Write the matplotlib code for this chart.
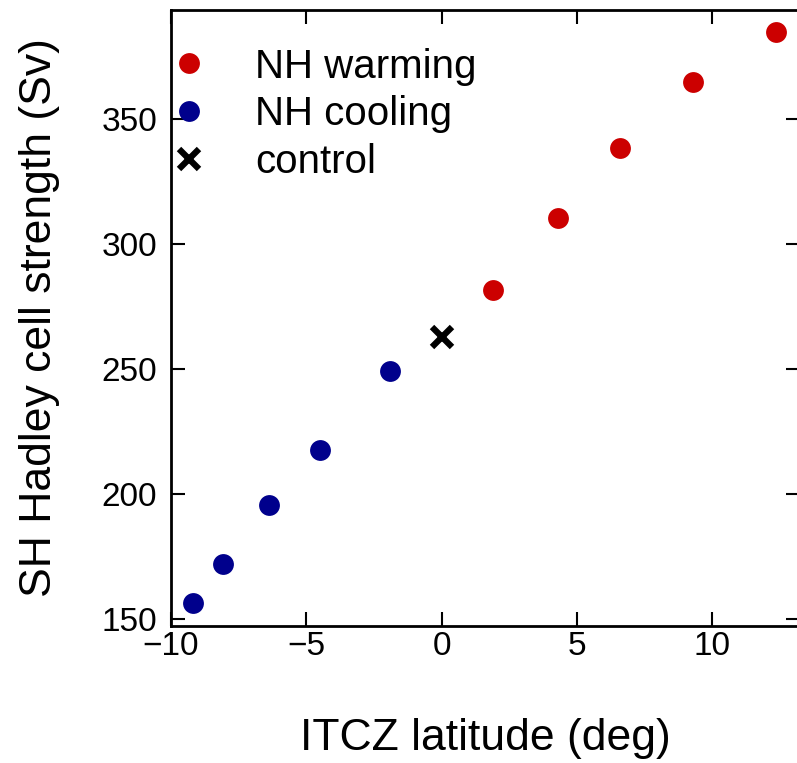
import matplotlib
matplotlib.use("Agg")
import matplotlib.pyplot as plt

plt.rcParams['font.family'] = ['Liberation Sans', 'DejaVu Sans']

# ITCZ latitude (deg) and SH Hadley cell strength (Sv)
cool_lat = [-9.17, -8.08, -6.38, -4.48, -1.90]
cool_psi = [156.4, 172.0, 195.7, 217.7, 249.3]
warm_lat = [1.91, 4.30, 6.61, 9.29, 12.37]
warm_psi = [281.8, 310.4, 338.6, 365.0, 384.9]
ctrl_lat = [0.0]
ctrl_psi = [262.8]

red = '#cc0000'
blue = '#00008c'

fig = plt.figure(figsize=(7.97, 7.63), dpi=100)
ax = fig.add_axes([0.2146, 0.180, 0.7895, 0.807])

ax.plot(warm_lat, warm_psi, 'o', color=red, ms=15, mec='none', label='NH warming')
ax.plot(cool_lat, cool_psi, 'o', color=blue, ms=15, mec='none', label='NH cooling')
ax.plot(ctrl_lat, ctrl_psi, 'x', color='k', ms=14, mew=4.5, label='control')

ax.set_xlim(-10, 13.26)
ax.set_ylim(147.4, 393.7)
ax.set_xticks([-10, -5, 0, 5, 10])
ax.set_xticklabels(['\u221210', '\u22125', '0', '5', '10'])
ax.set_yticks([150, 200, 250, 300, 350])

ax.tick_params(direction='in', length=10, width=1.5, labelsize=24,
               top=True, right=True)
ax.tick_params(axis='x', pad=4)
ax.tick_params(axis='y', pad=10)
for s in ax.spines.values():
    s.set_linewidth(2)

ax.set_xlabel('ITCZ latitude (deg)', fontsize=32, labelpad=40)
ax.set_ylabel('SH Hadley cell strength (Sv)', fontsize=32, labelpad=30)

ax.legend(loc='upper left', frameon=False, fontsize=29, handletextpad=1.39,
          labelspacing=0.24, borderaxespad=0.0, handlelength=0.5,
          borderpad=0.2, bbox_to_anchor=(0.0, 0.952))

fig.savefig('out.png', dpi=100)
